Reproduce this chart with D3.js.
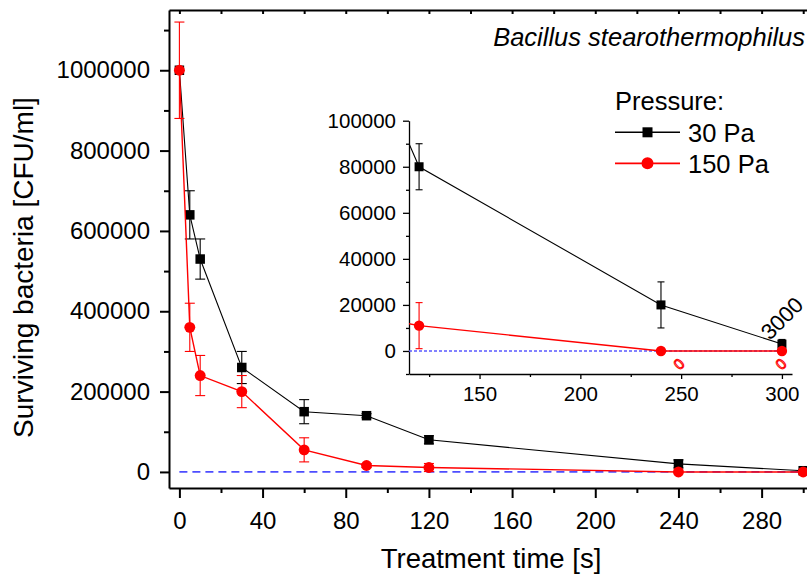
<!doctype html>
<html>
<head>
<script type='text/javascript' src='https://d3js.org/d3.v7.min.js'></script>
<style>
body { margin: 0; background: #fff; }
text { font-family: Arial, 'Liberation Sans', sans-serif; }
</style>
</head>
<body>
<script>
var width = 807, height = 575;

// data
var times = [0, 5, 10, 30, 60, 90, 120, 240, 300];
var cfu30 = [1000000, 640000, 530000, 260000, 150000, 140000, 80000, 20000, 3000];
var err30 = [0, 60000, 50000, 40000, 30000, 5000, 10000, 10000, 2000];
var cfu150 = [1000000, 360000, 240000, 200000, 55000, 16000, 11000, 0, 0];
var err150 = [120000, 60000, 50000, 40000, 30000, 5000, 10000, 0, 0];
var xTicksMain = [0, 40, 80, 120, 160, 200, 240, 280];
var yTicksMain = [0, 200000, 400000, 600000, 800000, 1000000];
var xTicksInset = [150, 200, 250, 300];
var yTicksInset = [0, 20000, 40000, 60000, 80000, 100000];
var legendLabels = ['30 Pa', '150 Pa'];

var series = [
  {name: legendLabels[0], color: '#000', shape: 'square', lw: 1.1,
   pts: times.map(function(t, i) { return {t: t, v: cfu30[i], e: err30[i]}; })},
  {name: legendLabels[1], color: '#ff0000', shape: 'circle', lw: 1.4,
   pts: times.map(function(t, i) { return {t: t, v: cfu150[i], e: err150[i]}; })}
];

var svg = d3.select('body').append('svg').attr('width', width).attr('height', height);

// main scales
var x = d3.scaleLinear().domain([-5, 310]).range([169, 824]);
var y = d3.scaleLinear().domain([-40000, 1150000]).range([488, 10]);

// inset scales
var xi = d3.scaleLinear().domain([115, 305]).range([409, 792]);
var yi = d3.scaleLinear().domain([-10000, 100000]).range([374, 120.7]);

function styleAxis(g, sw) {
  g.select('.domain').attr('stroke-width', sw);
  g.selectAll('.tick line').attr('stroke-width', sw);
}

// ---- main axes ----
var gL = svg.append('g').attr('transform', 'translate(169,0)')
  .call(d3.axisLeft(y).tickValues(yTicksMain).tickSize(9).tickSizeOuter(0).tickPadding(10).tickFormat(d3.format('d')));
gL.selectAll('text').attr('font-size', 24).attr('fill', '#000');
styleAxis(gL, 2);
svg.append('g').attr('transform', 'translate(169,0)')
  .call(d3.axisLeft(y).tickValues(d3.range(100000, 1150000, 200000)).tickSize(5).tickFormat(''))
  .call(function(g) { g.select('.domain').remove(); g.selectAll('line').attr('stroke-width', 2); });

var gB = svg.append('g').attr('transform', 'translate(0,488)')
  .call(d3.axisBottom(x).tickValues(xTicksMain).tickSize(10).tickSizeOuter(0).tickPadding(14));
gB.selectAll('text').attr('font-size', 24).attr('fill', '#000');
styleAxis(gB, 2);
svg.append('g').attr('transform', 'translate(0,488)')
  .call(d3.axisBottom(x).tickValues(d3.range(20, 310, 40)).tickSize(5).tickFormat(''))
  .call(function(g) { g.select('.domain').remove(); g.selectAll('line').attr('stroke-width', 2); });

var gT = svg.append('g').attr('transform', 'translate(0,10)')
  .call(d3.axisBottom(x).tickValues(d3.range(0, 310, 20)).tickSize(4).tickSizeOuter(0).tickFormat(''));
styleAxis(gT, 2);

svg.append('line').attr('x1', x(310)).attr('x2', x(310)).attr('y1', 10).attr('y2', 488)
  .attr('stroke', '#000').attr('stroke-width', 2);

// zero line
svg.append('line').attr('x1', x(0)).attr('x2', x(310)).attr('y1', y(0)).attr('y2', y(0))
  .attr('stroke', '#4d4dff').attr('stroke-width', 1.8).attr('stroke-dasharray', '8,5');

// ---- drawing helper ----
function drawSeries(g, xs, ys, s, msize, cap) {
  var line = d3.line().x(function(d) { return xs(d.t); }).y(function(d) { return ys(d.v); });
  g.append('path').datum(s.pts).attr('d', line).attr('fill', 'none')
    .attr('stroke', s.color).attr('stroke-width', s.lw);
  var eb = g.append('g').attr('stroke', s.color).attr('stroke-width', 1.1);
  s.pts.filter(function(d) { return d.e > 0; }).forEach(function(d) {
    var cx = xs(d.t);
    eb.append('line').attr('x1', cx).attr('x2', cx).attr('y1', ys(d.v - d.e)).attr('y2', ys(d.v + d.e));
    [d.v - d.e, d.v + d.e].forEach(function(v) {
      eb.append('line').attr('x1', cx - cap / 2).attr('x2', cx + cap / 2).attr('y1', ys(v)).attr('y2', ys(v));
    });
  });
  if (s.shape === 'square') {
    g.selectAll(null).data(s.pts).join('rect')
      .attr('x', function(d) { return xs(d.t) - msize / 2; })
      .attr('y', function(d) { return ys(d.v) - msize / 2; })
      .attr('width', msize).attr('height', msize).attr('fill', s.color);
  } else {
    g.selectAll(null).data(s.pts).join('circle')
      .attr('cx', function(d) { return xs(d.t); })
      .attr('cy', function(d) { return ys(d.v); })
      .attr('r', msize / 2 + 0.7).attr('fill', s.color);
  }
}

var gMain = svg.append('g');
series.forEach(function(s) { drawSeries(gMain, x, y, s, 9.5, 10); });

// ---- inset ----
var gIL = svg.append('g').attr('transform', 'translate(409,0)')
  .call(d3.axisLeft(yi).tickValues(yTicksInset).tickSize(6).tickSizeOuter(0).tickPadding(7).tickFormat(d3.format('d')));
gIL.selectAll('text').attr('font-size', 20.5).attr('fill', '#000');
styleAxis(gIL, 1.3);
svg.append('g').attr('transform', 'translate(409,0)')
  .call(d3.axisLeft(yi).tickValues(d3.range(-10000, 100000, 20000)).tickSize(3).tickFormat(''))
  .call(function(g) { g.select('.domain').remove(); g.selectAll('line').attr('stroke-width', 1.3); });

var gIB = svg.append('g').attr('transform', 'translate(0,374)')
  .call(d3.axisBottom(xi).tickValues(xTicksInset).tickSize(5).tickSizeOuter(0).tickPadding(7));
gIB.selectAll('text').attr('font-size', 20.5).attr('fill', '#000');
styleAxis(gIB, 1.3);
svg.append('g').attr('transform', 'translate(0,374)')
  .call(d3.axisBottom(xi).tickValues(d3.range(125, 305, 50)).tickSize(3).tickFormat(''))
  .call(function(g) { g.select('.domain').remove(); g.selectAll('line').attr('stroke-width', 1.3); });

svg.append('clipPath').attr('id', 'insetClip').append('rect')
  .attr('x', 409).attr('y', 120).attr('width', 383).attr('height', 254);
var gInset = svg.append('g').attr('clip-path', 'url(#insetClip)');
gInset.append('line').attr('x1', xi(115)).attr('x2', xi(302)).attr('y1', yi(0)).attr('y2', yi(0))
  .attr('stroke', '#5a5aff').attr('stroke-width', 1.5).attr('stroke-dasharray', '3,2');
series.forEach(function(s) { drawSeries(gInset, xi, yi, s, 9, 7); });

// value annotations in inset
svg.append('text').attr('transform', 'translate(' + (xi(300) - 12) + ',' + (yi(3000) - 3) + ') rotate(-45)')
  .attr('font-size', 22).attr('fill', '#000').text('3000');
[240, 300].forEach(function(t, i) {
  svg.append('text')
    .attr('transform', 'translate(' + (xi(t) + (i === 0 ? 19 : 0)) + ',' + (yi(0) + 14) + ') rotate(-45)')
    .attr('text-anchor', 'middle').attr('dominant-baseline', 'middle')
    .attr('font-size', 15).attr('fill', 'none').attr('stroke', '#ff0000').attr('stroke-width', 1)
    .text('0');
});

// ---- legend ----
svg.append('text').attr('x', 615).attr('y', 110).attr('font-size', 25.5).text('Pressure:');
var lg = svg.append('g');
series.forEach(function(s, i) {
  var ly = 132.3 + i * 31;
  lg.append('line').attr('x1', 615).attr('x2', 680).attr('y1', ly).attr('y2', ly)
    .attr('stroke', s.color).attr('stroke-width', s.lw + 0.3);
  if (s.shape === 'square') {
    lg.append('rect').attr('x', 647.5 - 5).attr('y', ly - 5).attr('width', 10).attr('height', 10).attr('fill', s.color);
  } else {
    lg.append('circle').attr('cx', 647.5).attr('cy', ly).attr('r', 6).attr('fill', s.color);
  }
  lg.append('text').attr('x', 688).attr('y', ly + 9.5).attr('font-size', 25.5).text(s.name);
});

// ---- titles ----
svg.append('text').attr('x', 805).attr('y', 46).attr('text-anchor', 'end')
  .attr('font-size', 25.5).attr('font-style', 'italic').text('Bacillus stearothermophilus');
svg.append('text').attr('x', 491).attr('y', 568).attr('text-anchor', 'middle')
  .attr('font-size', 27.5).text('Treatment time [s]');
svg.append('text').attr('transform', 'translate(33,267.5) rotate(-90)').attr('text-anchor', 'middle')
  .attr('font-size', 28).text('Surviving bacteria [CFU/ml]');
</script>
</body>
</html>
